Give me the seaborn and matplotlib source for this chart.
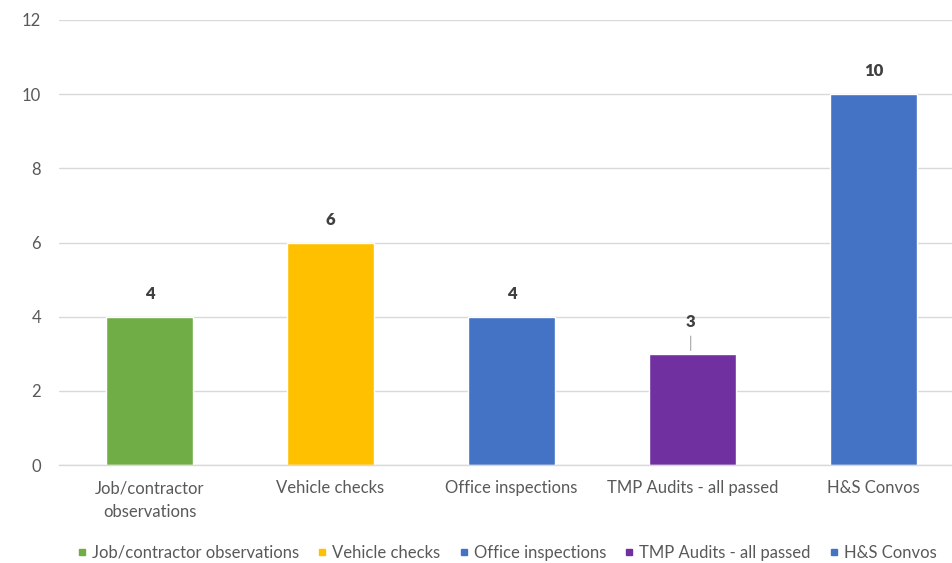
import matplotlib
matplotlib.use("Agg")
import matplotlib.pyplot as plt
from matplotlib.lines import Line2D
import seaborn as sns
import pandas as pd

categories = ["Job/contractor observations", "Vehicle checks", "Office inspections",
              "TMP Audits - all passed", "H&S Convos"]
tick_labels = ["Job/contractor\nobservations", "Vehicle checks", "Office inspections",
               "TMP Audits - all passed", "H&S Convos"]
values = [4, 6, 4, 3, 10]
colors = ["#70AD47", "#FFC000", "#4472C4", "#7030A0", "#4472C4"]

df = pd.DataFrame({"category": categories, "value": values})

sns.set_style("white")
plt.rcParams["font.family"] = ["Lato", "DejaVu Sans"]
text_col = "#595959"
fs = 12

fig = plt.figure(figsize=(9.53, 5.63), dpi=100)
W, H = 953, 563
ax = fig.add_axes([59 / W, (H - 465) / H, (964 - 59) / W, (465 - 20) / H])

sns.barplot(data=df, x="category", y="value", hue="category", palette=colors,
            dodge=False, width=0.48, legend=False, ax=ax, saturation=1)

ax.set_ylim(0, 12)
ax.set_xlim(-0.5, len(categories) - 0.5)
ax.set_yticks(range(0, 13, 2))
ax.yaxis.grid(True, color="#D9D9D9", linewidth=1)
ax.set_axisbelow(True)
for s in ["top", "right", "left"]:
    ax.spines[s].set_visible(False)
ax.spines["bottom"].set_color("#D9D9D9")
ax.spines["bottom"].set_linewidth(1)

ax.set_xticks(range(len(categories)))
ax.set_xticklabels(tick_labels, fontsize=fs, color=text_col, linespacing=1.6)
ax.tick_params(axis="x", length=0, pad=11)
ax.tick_params(axis="y", length=0, labelsize=fs, labelcolor=text_col, pad=13)
# minor ticks between categories
ax.set_xticks([i - 0.5 for i in range(len(categories) + 1)], minor=True)
ax.tick_params(axis="x", which="minor", length=5, color="#D9D9D9", direction="out")
ax.set_xlabel("")
ax.set_ylabel("")

for i, v in enumerate(values):
    if v == 3:
        ax.annotate(str(v), xy=(i - 0.01, v + 0.05), xytext=(0, 21.5),
                    textcoords="offset points", ha="center", va="center",
                    fontsize=fs, fontweight="heavy", color="#404040",
                    arrowprops=dict(arrowstyle="-", color="#A6A6A6", lw=0.8,
                                    shrinkA=2, shrinkB=1))
    else:
        ax.text(i, v + 0.62, str(v), ha="center", va="center", fontsize=fs,
                fontweight="heavy", color="#404040")

handles = [Line2D([0], [0], marker="s", linestyle="", markersize=5,
                  markerfacecolor=c, markeredgecolor=c) for c in colors]
fig.legend(handles, categories, loc="center", bbox_to_anchor=(505 / W, (H - 553) / H),
           ncol=5, frameon=False, fontsize=fs, handletextpad=0.1, columnspacing=0.9,
           handlelength=1.0, labelcolor=text_col)

fig.savefig("out.png", dpi=100)
